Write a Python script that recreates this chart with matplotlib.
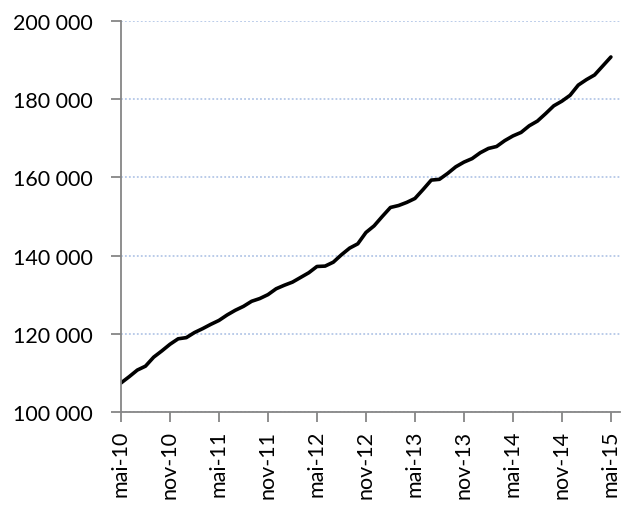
import matplotlib
matplotlib.use("Agg")
import matplotlib.pyplot as plt
from matplotlib.ticker import FuncFormatter

values = [107.4, 109.0, 110.7, 111.7, 114.0, 115.6, 117.3, 118.7, 119.0, 120.3,
          121.3, 122.4, 123.4, 124.8, 126.0, 127.0, 128.3, 129.0, 130.0, 131.5,
          132.4, 133.2, 134.4, 135.6, 137.2, 137.3, 138.3, 140.2, 141.9, 143.0,
          145.9, 147.6, 150.0, 152.3, 152.8, 153.6, 154.6, 156.9, 159.3, 159.5,
          161.0, 162.7, 163.9, 164.8, 166.3, 167.4, 167.9, 169.4, 170.6, 171.5,
          173.2, 174.4, 176.3, 178.3, 179.5, 181.0, 183.6, 185.0, 186.2, 188.5,
          190.8]
values = [v * 1000 for v in values]
months = list(range(len(values)))
tick_labels = ["mai-10", "nov-10", "mai-11", "nov-11", "mai-12", "nov-12",
               "mai-13", "nov-13", "mai-14", "nov-14", "mai-15"]
tick_pos = [i * 6 for i in range(len(tick_labels))]
y_ticks = [100000, 120000, 140000, 160000, 180000, 200000]

plt.rcParams['font.family'] = ['Lato', 'DejaVu Sans']
fig = plt.figure(figsize=(6.23, 5.06), dpi=100)
ax = fig.add_axes([0.1942, 0.184, 0.8008, 0.7725])

ax.plot(months, values, color='black', linewidth=2.6, solid_capstyle='round')
ax.set_xlim(0, 61.1)
ax.set_ylim(100000, 200000)
ax.set_yticks(y_ticks)
ax.yaxis.set_major_formatter(FuncFormatter(lambda v, p: f"{int(v):,}".replace(",", " ")))
ax.set_xticks(tick_pos)
ax.set_xticklabels(tick_labels, rotation=90)
ax.grid(axis='y', color='#B4C7E7', linestyle=(0, (1, 1.2)), linewidth=1.3)
ax.set_axisbelow(True)
for s in ['top', 'right']:
    ax.spines[s].set_visible(False)
for s in ['left', 'bottom']:
    ax.spines[s].set_color('#868686')
    ax.spines[s].set_linewidth(1.3)
ax.tick_params(axis='both', colors='#868686', length=7, width=1.3, labelcolor='black', labelsize=15.5)
ax.tick_params(axis='y', pad=13)
ax.tick_params(axis='x', pad=6)
fig.savefig("out.png", dpi=100)
